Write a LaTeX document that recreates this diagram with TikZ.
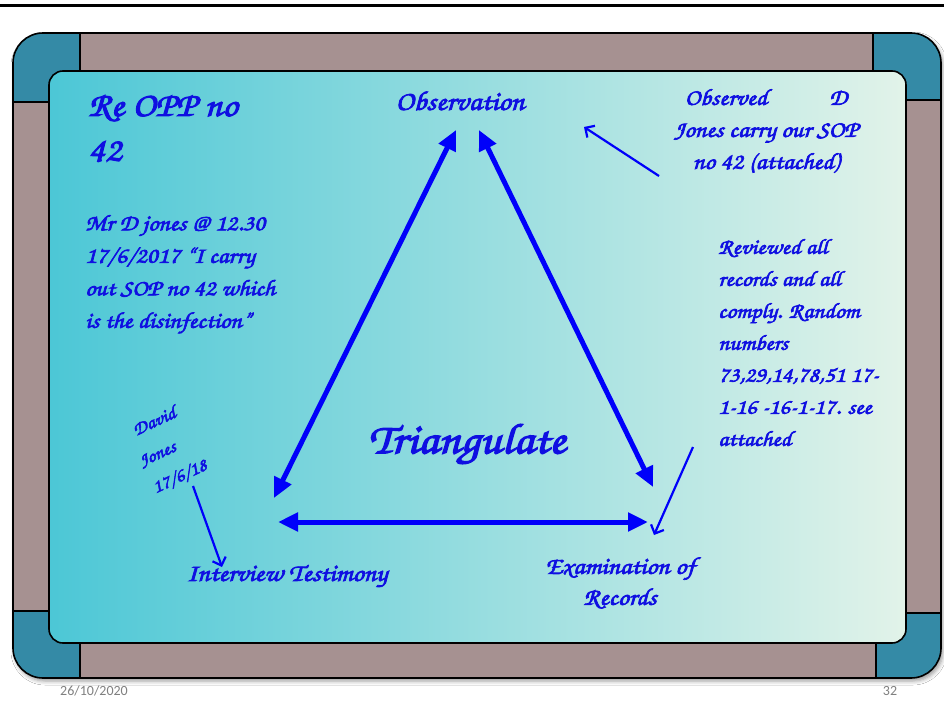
\documentclass[tikz,border=0pt]{standalone}
\usepackage{fontspec}
\usetikzlibrary{arrows.meta,shadows.blur}
\newfontfamily\hand{texgyrechorus-mediumitalic.otf}[FakeBold=3,FakeStretch=1.12]
\newfontfamily\footfont{Carlito}
\definecolor{framecol}{RGB}{166,145,145}
\definecolor{cornercol}{RGB}{52,138,166}
\definecolor{boardleft}{RGB}{76,199,214}
\definecolor{boardright}{RGB}{226,243,233}
\definecolor{inkblue}{RGB}{15,15,225}
\definecolor{arrowblue}{RGB}{0,0,250}
\definecolor{footgray}{RGB}{128,128,128}
\tikzset{
  ink/.style={text=inkblue, inner sep=0pt},
  bigarrow/.style={draw=arrowblue, line width=5pt,
    {Triangle[length=20pt,width=18pt]}-{Triangle[length=20pt,width=18pt]}},
  pointer/.style={draw=arrowblue, line width=2.2pt,
    -{Straight Barb[length=7pt,width=14pt]}},
  cornerline/.style={draw=black, line width=1.3pt},
  signline/.style={ink, rotate=25, font=\hand\fontsize{18}{22}\selectfont},
  foot/.style={text=footgray, font=\footfont\fontsize{14}{16}\selectfont, inner sep=0pt}
}
\begin{document}
\begin{tikzpicture}[x=1pt,y=-1pt]
\useasboundingbox (0,0) rectangle (944,717);
\fill[white] (0,0) rectangle (944,717);
% rule across the top of the slide
\draw[line width=2.5pt] (0,5.5) -- (944,5.5);

% whiteboard frame
\path[fill=framecol, rounded corners=30pt,
  blur shadow={shadow xshift=2pt, shadow yshift=-3pt, shadow blur radius=4pt}]
  (13,33) rectangle (941,678);
\begin{scope}
  \clip[rounded corners=30pt] (13,33) rectangle (941,678);
  \fill[cornercol] (13,33) rectangle (80,102);
  \fill[cornercol] (873,33) rectangle (941,100);
  \fill[cornercol] (13,611) rectangle (80,678);
  \fill[cornercol] (876,613) rectangle (941,678);
\end{scope}
\draw[cornerline] (80,33) -- (80,71) (13,102) -- (49,102);
\draw[cornerline] (873,33) -- (873,71) (906,100) -- (941,100);
\draw[cornerline] (13,611) -- (49,611) (80,643) -- (80,678);
\draw[cornerline] (906,613) -- (941,613) (876,643) -- (876,678);
\draw[line width=1.6pt, rounded corners=30pt] (13,33) rectangle (941,678);

% writing surface
\path[left color=boardleft, right color=boardright, draw=black, line width=1.6pt,
  rounded corners=14pt] (49,71) rectangle (906,643);

% handwritten notes
\node[ink, anchor=north west, align=left, font=\hand\fontsize{34}{45}\selectfont]
  (title) at (88,95) {Re OPP no\\42};
\node[ink, font=\hand\fontsize{27}{30}\selectfont] (obs) at (460,101) {Observation};
\node[ink, align=center, font=\hand\fontsize{23}{32}\selectfont]
  (obsnote) at (766,131) {Observed\hspace{62pt}D\\Jones carry our SOP\\no 42 (attached)};
\node[ink, anchor=north west, align=left, font=\hand\fontsize{22.5}{32.5}\selectfont]
  (testnote) at (85,215) {Mr D jones @ 12.30\\17/6/2017 “I carry\\out SOP no 42 which\\is the disinfection”};
\node[ink, anchor=north west, align=left, font=\hand\fontsize{21.5}{32}\selectfont]
  (recnote) at (718,239) {Reviewed all\\records and all\\comply. Random\\numbers\\73,29,14,78,51 17-\\1-16 -16-1-17. see\\attached};
\node[ink, font=\hand\fontsize{43}{48}\selectfont] (tri) at (467,444) {Triangulate};
\node[signline] (sign1) at (154,421) {David};
\node[signline] (sign2) at (158,455) {Jones};
\node[signline] (sign3) at (180,477) {17/6/18};
\node[ink, font=\hand\fontsize{24.5}{28}\selectfont] (interview) at (287,576) {Interview Testimony};
\node[ink, align=center, font=\hand\fontsize{24}{31}\selectfont]
  (exam) at (620,583) {Examination of\\Records};

% ends of the triangle's arrows
\coordinate (obsL) at (456,130);
\coordinate (obsR) at (479,130);
\coordinate (intTop) at (274,498);
\coordinate (intRight) at (278,522);
\coordinate (exTop) at (653,487);
\coordinate (exLeft) at (648,522);
\draw[bigarrow] (obsL) -- (intTop);
\draw[bigarrow] (obsR) -- (exTop);
\draw[bigarrow] (intRight) -- (exLeft);

% pointers from the notes
\coordinate (p1s) at (659,176);
\coordinate (p1e) at (584,127);
\coordinate (p2s) at (693,447);
\coordinate (p2e) at (654,535);
\coordinate (p3s) at (193,486);
\coordinate (p3e) at (222,567);
\draw[pointer] (p1s) -- (p1e);
\draw[pointer] (p2s) -- (p2e);
\draw[pointer] (p3s) -- (p3e);

% slide footer
\node[foot] (date) at (94,691) {26/10/2020};
\node[foot] (page) at (890,691) {32};
\end{tikzpicture}
\end{document}
